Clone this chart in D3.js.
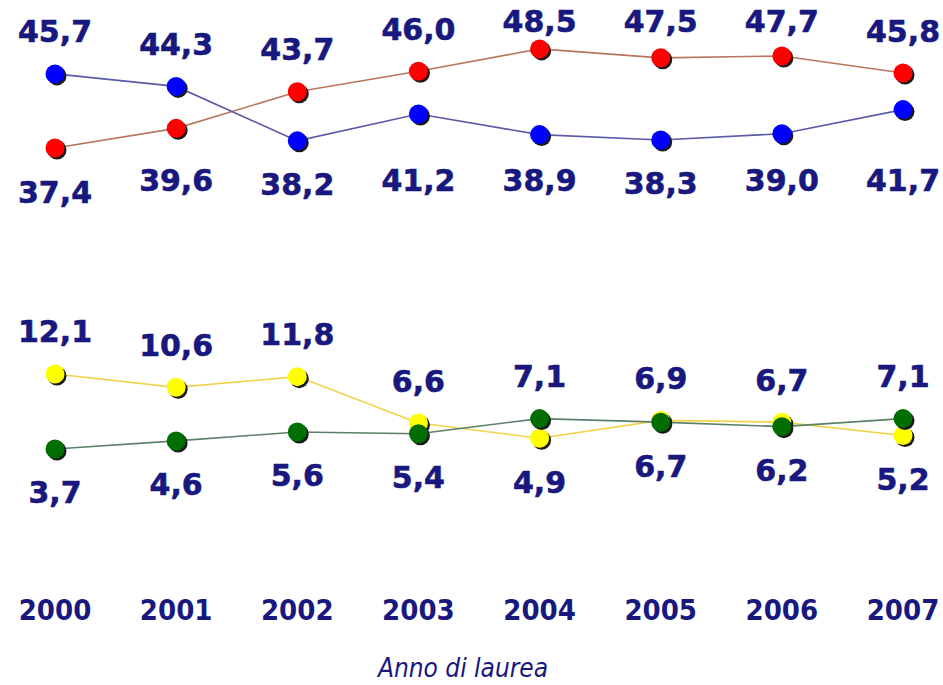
<html>
<head>
<meta charset="utf-8">
<script src="https://cdn.jsdelivr.net/npm/d3@7"></script>
<style>
  body { margin: 0; background: #fff; }
  text { fill: #18187e; }
</style>
</head>
<body>
<div id="chart"></div>
<script>
// years on the x axis
var years = ["2000", "2001", "2002", "2003", "2004", "2005", "2006", "2007"];

// four series, values in %
var blueVals   = [45.7, 44.3, 38.2, 41.2, 38.9, 38.3, 39.0, 41.7];
var redVals    = [37.4, 39.6, 43.7, 46.0, 48.5, 47.5, 47.7, 45.8];
var yellowVals = [12.1, 10.6, 11.8, 6.6, 4.9, 6.9, 6.7, 5.2];
var greenVals  = [3.7, 4.6, 5.6, 5.4, 7.1, 6.7, 6.2, 7.1];

var axisTitle = "Anno di laurea";

var width = 943, height = 685;

var svg = d3.select("#chart").append("svg")
  .attr("width", width)
  .attr("height", height);

var x = d3.scalePoint().domain(years).range([55, 903]);
var y = d3.scaleLinear().domain([0, 50]).range([482, 35.5]);

var series = [
  { vals: redVals,    fill: "#ff0000", line: "#b8765e" },
  { vals: blueVals,   fill: "#0000ff", line: "#5a5aa8" },
  { vals: yellowVals, fill: "#ffff00", line: "#f2d24a" },
  { vals: greenVals,  fill: "#006e00", line: "#5a8068" }
];

var line = d3.line()
  .x(function (d, i) { return x(years[i]); })
  .y(function (d) { return y(d); });

// lines first
series.forEach(function (s) {
  svg.append("path")
    .datum(s.vals)
    .attr("d", line)
    .attr("fill", "none")
    .attr("stroke", s.line)
    .attr("stroke-width", 1.6);
});

// points with a small drop shadow
series.forEach(function (s) {
  var g = svg.append("g");
  g.selectAll("circle.shadow")
    .data(s.vals)
    .join("circle")
    .attr("class", "shadow")
    .attr("cx", function (d, i) { return x(years[i]) + 2; })
    .attr("cy", function (d) { return y(d) + 2; })
    .attr("r", 9.5)
    .attr("fill", "#1a1a1a");
  g.selectAll("circle.dot")
    .data(s.vals)
    .join("circle")
    .attr("class", "dot")
    .attr("cx", function (d, i) { return x(years[i]); })
    .attr("cy", function (d) { return y(d); })
    .attr("r", 9.5)
    .attr("fill", s.fill);
});

// value labels: the higher value of each pair goes above, the lower below
function fmt(v) { return v.toFixed(1).replace(".", ","); }

function pairLabels(a, b, topMin, lowMin) {
  years.forEach(function (yr, i) {
    var hi = Math.max(a[i], b[i]), lo = Math.min(a[i], b[i]);
    var yHi = Math.max(y(hi) - 42, topMin);
    var yLo = Math.max(y(lo) + 44, lowMin);
    [[hi, yHi], [lo, yLo]].forEach(function (p) {
      svg.append("text")
        .attr("x", x(yr))
        .attr("y", p[1])
        .attr("text-anchor", "middle")
        .attr("dominant-baseline", "central")
        .style("font-family", "'DejaVu Sans', Verdana, sans-serif")
        .style("font-weight", "bold")
        .style("font-size", "30px")
        .style("stroke", "#18187e")
        .style("stroke-width", 0.6)
        .text(fmt(p[0]));
    });
  });
}
pairLabels(blueVals, redVals, 21, 180);
pairLabels(yellowVals, greenVals, 21, 0);

// year labels
svg.selectAll("text.year")
  .data(years)
  .join("text")
  .attr("class", "year")
  .attr("x", function (d) { return x(d); })
  .attr("y", 620)
  .attr("text-anchor", "middle")
  .style("font-family", "'DejaVu Sans Condensed', 'DejaVu Sans', sans-serif")
  .style("font-weight", "bold")
  .style("font-size", "29px")
  .text(function (d) { return d; });

// axis title
svg.append("text")
  .attr("x", 463)
  .attr("y", 677)
  .attr("text-anchor", "middle")
  .style("font-family", "'DejaVu Sans Condensed', 'DejaVu Sans', sans-serif")
  .style("font-style", "italic")
  .style("font-size", "26px")
  .text(axisTitle);
</script>
</body>
</html>
